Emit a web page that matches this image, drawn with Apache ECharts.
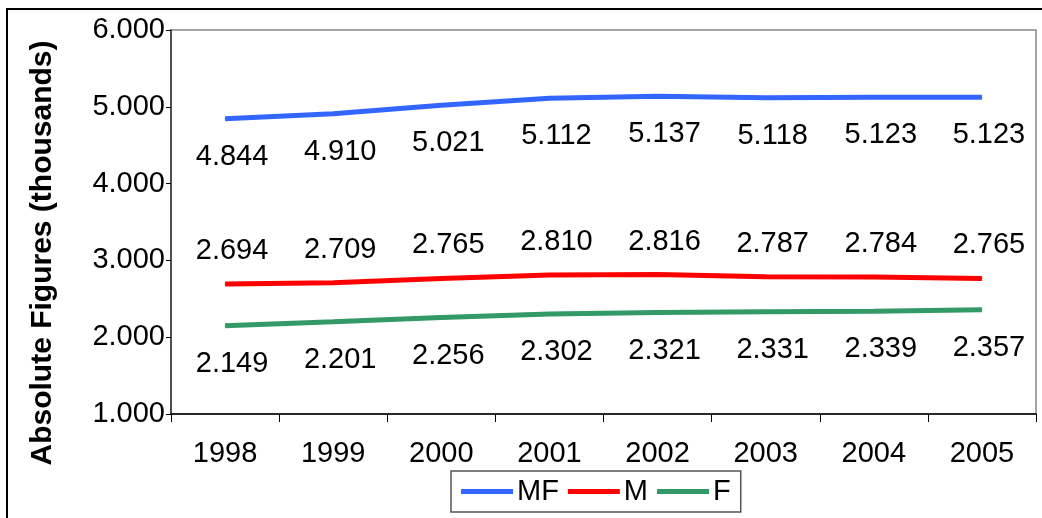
<!DOCTYPE html>
<html>
<head>
<meta charset="utf-8">
<script src="https://cdn.jsdelivr.net/npm/echarts@6/dist/echarts.min.js"></script>
<style>
    html, body { margin: 0; padding: 0; background: #fff; }
    #chart { width: 1042px; height: 518px; }
</style>
</head>
<body>
<div id="chart"></div>
<script>
// chart data
const years = ['1998', '1999', '2000', '2001', '2002', '2003', '2004', '2005'];
const mfData = [4844, 4910, 5021, 5112, 5137, 5118, 5123, 5123];
const mData = [2694, 2709, 2765, 2810, 2816, 2787, 2784, 2765];
const fData = [2149, 2201, 2256, 2302, 2321, 2331, 2339, 2357];
const yTitle = 'Absolute Figures (thousands)';

const font = '"Liberation Sans", Arial, sans-serif';

// 4844 -> "4.844"
function fmt(v) {
    return (v / 1000).toFixed(3);
}

function makeSeries(name, data, color, pos, dist) {
    return {
        name: name,
        type: 'line',
        data: data,
        symbol: 'circle',
        symbolSize: 1,
        itemStyle: { color: color },
        lineStyle: { color: color, width: 5 },
        label: {
            show: true,
            position: pos,
            distance: dist,
            offset: [7, 0],
            color: '#000',
            fontFamily: font,
            fontSize: 29,
            formatter: function (p) { return fmt(p.value); }
        },
        emphasis: { disabled: true },
        animation: false
    };
}

let chart = echarts.init(document.getElementById('chart'));
chart.setOption({
    animation: false,
    grid: {
        left: 171, right: 6, top: 30, bottom: 104,
        show: true, borderColor: '#888', borderWidth: 1.5
    },
    legend: {
        left: 451, top: 471,
        padding: [6, 10, 6, 10],
        itemGap: 9,
        itemWidth: 52,
        itemHeight: 5,
        icon: 'rect',
        borderColor: '#555',
        borderWidth: 1.5,
        textStyle: { color: '#000', fontFamily: font, fontSize: 29, padding: [0, 0, 0, -1] },
        data: ['MF', 'M', 'F']
    },
    xAxis: {
        type: 'category',
        data: years,
        boundaryGap: true,
        axisLine: { lineStyle: { color: '#000', width: 1.5 } },
        axisTick: { show: true, interval: 0, length: 8, lineStyle: { color: '#000' } },
        axisLabel: { color: '#000', fontFamily: font, fontSize: 29, margin: 25, interval: 0 }
    },
    yAxis: {
        type: 'value',
        min: 1000, max: 6000, interval: 1000,
        axisLine: { show: true, lineStyle: { color: '#333', width: 1.5 } },
        axisTick: { show: true, length: 5, lineStyle: { color: '#000' } },
        splitLine: { show: false },
        axisLabel: { color: '#000', fontFamily: font, fontSize: 29, margin: 6, formatter: fmt }
    },
    graphic: [
        {
            type: 'rect',
            shape: { x: 7, y: 9, width: 1100, height: 600 },
            style: { fill: 'none', stroke: '#000', lineWidth: 2 },
            silent: true
        },
        {
            type: 'text',
            x: 43, y: 253,
            rotation: Math.PI / 2,
            style: {
                text: yTitle,
                fill: '#000',
                font: 'bold 30px ' + font,
                textAlign: 'center',
                textVerticalAlign: 'middle'
            }
        }
    ],
    series: [
        makeSeries('MF', mfData, '#3366FF', 'bottom', 23),
        makeSeries('M', mData, '#FF0000', 'top', 18),
        makeSeries('F', fData, '#339966', 'bottom', 23)
    ]
});
</script>
</body>
</html>
